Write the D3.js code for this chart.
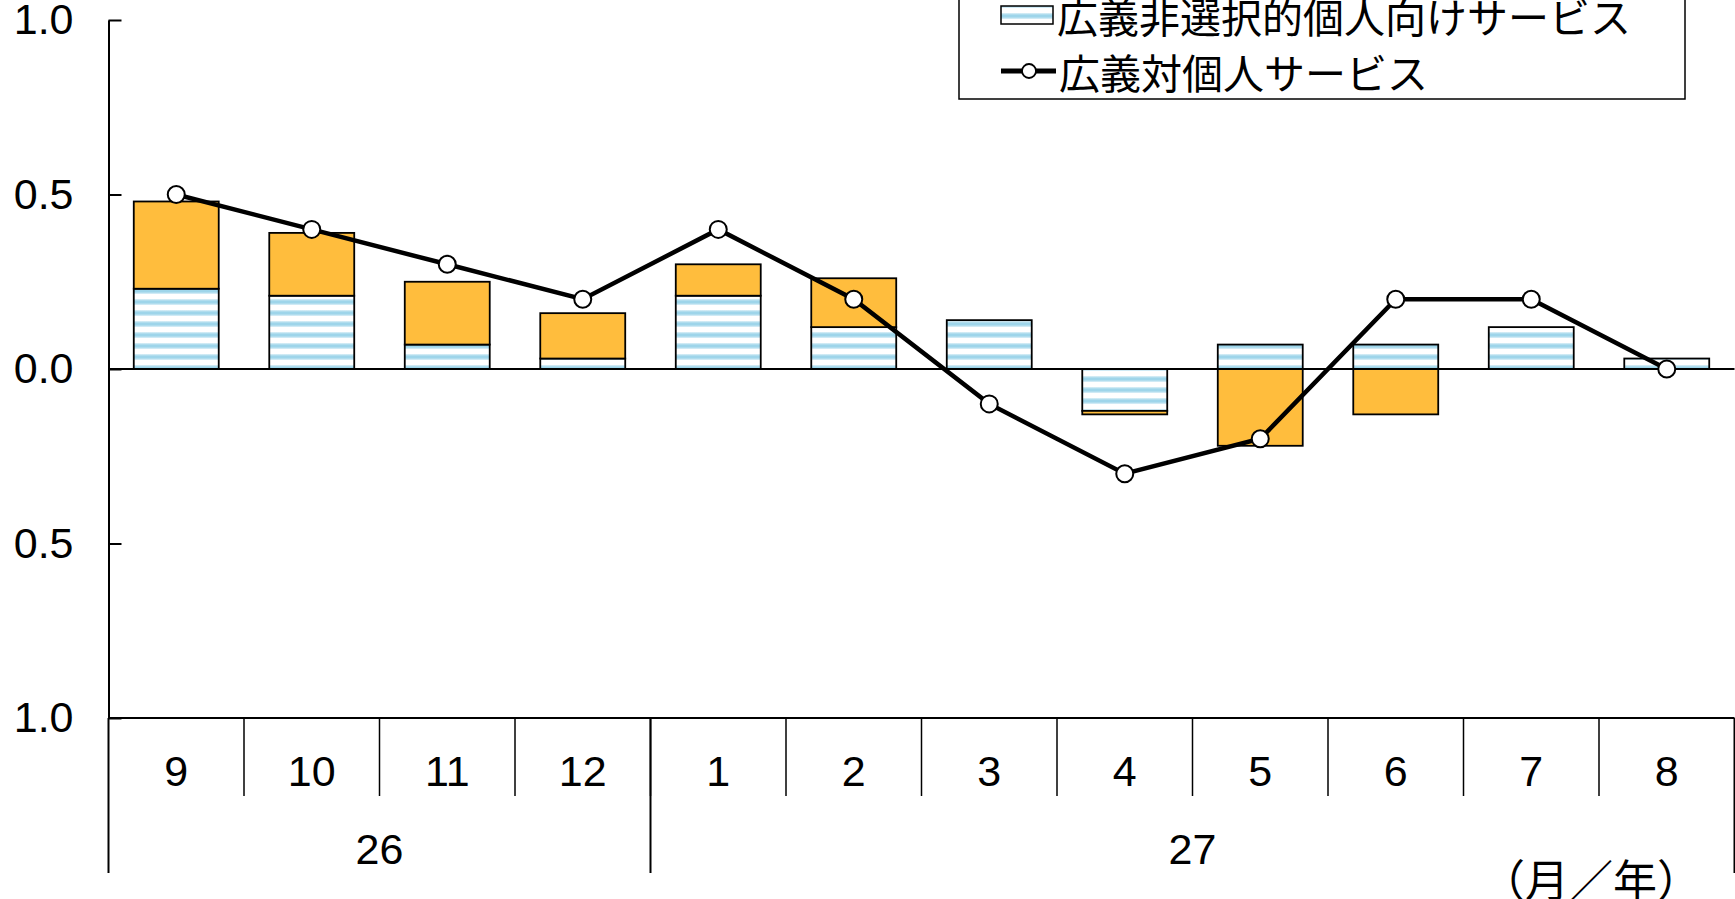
<!DOCTYPE html>
<html lang="ja">

<head>
    <meta charset="UTF-8">
    <title>広義対個人サービス</title>
    <script src="https://d3js.org/d3.v7.min.js"></script>
    <style>
        body {
            margin: 0;
            background-color: white;
        }

        .num {
            font-family: "Liberation Sans", Arial, sans-serif;
        }

        .jp {
            font-family: "Noto Sans CJK JP", sans-serif;
        }
    </style>
</head>

<body>
    <script>
        // data
        var months = ["9", "10", "11", "12", "1", "2", "3", "4", "5", "6", "7", "8"]
        var yearLabels = ["26", "27"]
        var yearSpans = [4, 8]
        var nonSelective = [0.23, 0.21, 0.07, 0.03, 0.21, 0.12, 0.14, -0.12, 0.07, 0.07, 0.12, 0.03]
        var selective = [0.25, 0.18, 0.18, 0.13, 0.09, 0.14, 0, -0.01, -0.22, -0.13, 0, 0]
        var total = [0.5, 0.4, 0.3, 0.2, 0.4, 0.2, -0.1, -0.3, -0.2, 0.2, 0.2, 0.0]
        var yTicks = [-1, -0.5, 0, 0.5, 1]
        var seriesNames = ["広義非選択的個人向けサービス", "広義対個人サービス"]

        var width = 1735
        var height = 899
        var plotLeft = 108.5
        var plotRight = 1734.5
        var plotTop = 20
        var plotBottom = 718
        var monthRow = 796
        var yearRow = 873
        var orange = "#FFBD3D"
        var stripeBlue = "#9ED5EA"

        const svg = d3.select("body")
            .append("svg")
            .attr("width", width)
            .attr("height", height)

        var defs = svg.append("defs")
        var grad = defs.append("linearGradient")
            .attr("id", "stripeGrad")
            .attr("x1", 0).attr("x2", 0).attr("y1", 0).attr("y2", 1)
        grad.append("stop").attr("offset", "0%").attr("stop-color", "#dff1f8")
        grad.append("stop").attr("offset", "35%").attr("stop-color", stripeBlue)
        grad.append("stop").attr("offset", "65%").attr("stop-color", stripeBlue)
        grad.append("stop").attr("offset", "100%").attr("stop-color", "#dff1f8")
        var pat = defs.append("pattern")
            .attr("id", "stripes")
            .attr("patternUnits", "userSpaceOnUse")
            .attr("width", 20)
            .attr("height", 11)
        pat.append("rect").attr("width", 20).attr("height", 11).attr("fill", "white")
        pat.append("rect").attr("y", 2).attr("width", 20).attr("height", 6).attr("fill", "url(#stripeGrad)")

        var x = d3.scaleBand()
            .domain(d3.range(months.length))
            .range([plotLeft, plotRight])
            .paddingInner(0.373)
            .paddingOuter(0.1865)
        var step = x.step()
        var y = d3.scaleLinear().domain([-1, 1]).range([plotBottom, plotTop])

        // stacked bars, positive and negative parts stack separately
        var rows = months.map(function (m, i) {
            return { i: i, blue: nonSelective[i], orange: selective[i] }
        })
        var stack = d3.stack().keys(["blue", "orange"]).offset(d3.stackOffsetDiverging)
        var layers = stack(rows)
        var fills = { blue: "url(#stripes)", orange: orange }

        svg.selectAll(".layer")
            .data(layers)
            .enter().append("g")
            .attr("class", "layer")
            .attr("fill", function (d) { return fills[d.key] })
            .selectAll("rect")
            .data(function (d) { return d.filter(function (s) { return s[1] - s[0] != 0 }) })
            .enter().append("rect")
            .attr("x", function (d) { return x(d.data.i) })
            .attr("width", x.bandwidth())
            .attr("y", function (d) { return y(d[1]) })
            .attr("height", function (d) { return y(d[0]) - y(d[1]) })
            .attr("stroke", "black")
            .attr("stroke-width", 1.8)

        // zero line and category axis line
        svg.append("line")
            .attr("x1", plotLeft).attr("x2", plotRight)
            .attr("y1", y(0)).attr("y2", y(0))
            .attr("stroke", "black").attr("stroke-width", 2)
        svg.append("line")
            .attr("x1", plotLeft).attr("x2", plotRight)
            .attr("y1", plotBottom).attr("y2", plotBottom)
            .attr("stroke", "black").attr("stroke-width", 2)

        // value axis
        var yAxis = d3.axisLeft(y)
            .tickValues(yTicks)
            .tickSizeInner(-13)
            .tickSizeOuter(0)
            .tickPadding(35)
            .tickFormat(function (d) { return d3.format(".1f")(Math.abs(d)) })
        var ya = svg.append("g")
            .attr("transform", "translate(" + plotLeft + ",0)")
            .call(yAxis)
        ya.select(".domain").attr("stroke-width", 2)
        ya.selectAll(".tick line").attr("stroke-width", 2)
        ya.selectAll("text")
            .attr("class", "num")
            .attr("font-size", 43)
            .attr("fill", "black")
        svg.append("line")
            .attr("x1", plotLeft).attr("x2", plotLeft)
            .attr("y1", plotBottom).attr("y2", yearRow)
            .attr("stroke", "black").attr("stroke-width", 2)

        // month dividers and labels
        for (var i = 1; i < months.length; i++) {
            svg.append("line")
                .attr("x1", x(i) - x.paddingInner() * step / 2)
                .attr("x2", x(i) - x.paddingInner() * step / 2)
                .attr("y1", plotBottom).attr("y2", monthRow)
                .attr("stroke", "black").attr("stroke-width", 1.5)
        }
        svg.selectAll(".month")
            .data(months)
            .enter().append("text")
            .attr("class", "num month")
            .attr("x", function (d, i) { return x(i) + x.bandwidth() / 2 })
            .attr("y", 771)
            .attr("dy", "0.36em")
            .attr("text-anchor", "middle")
            .attr("font-size", 43)
            .text(function (d) { return d })

        // year groups
        var start = 0
        yearLabels.forEach(function (label, k) {
            var x0 = plotLeft + start * step
            var x1 = plotLeft + (start + yearSpans[k]) * step
            svg.append("line")
                .attr("x1", x1).attr("x2", x1)
                .attr("y1", plotBottom).attr("y2", yearRow)
                .attr("stroke", "black").attr("stroke-width", 2)
            svg.append("text")
                .attr("class", "num")
                .attr("x", (x0 + x1) / 2)
                .attr("y", 849)
                .attr("dy", "0.36em")
                .attr("text-anchor", "middle")
                .attr("font-size", 43)
                .text(label)
            start += yearSpans[k]
        })

        svg.append("text")
            .attr("class", "jp")
            .attr("x", 1591)
            .attr("y", 878)
            .attr("dominant-baseline", "central")
            .attr("text-anchor", "middle")
            .attr("font-size", 44)
            .text("（月／年）")

        // total line
        var line = d3.line()
            .x(function (d, i) { return x(i) + x.bandwidth() / 2 })
            .y(function (d) { return y(d) })
        svg.append("path")
            .datum(total)
            .attr("d", line)
            .attr("fill", "none")
            .attr("stroke", "black")
            .attr("stroke-width", 4.5)
        svg.selectAll(".dot")
            .data(total)
            .enter().append("circle")
            .attr("class", "dot")
            .attr("cx", function (d, i) { return x(i) + x.bandwidth() / 2 })
            .attr("cy", function (d) { return y(d) })
            .attr("r", 8.5)
            .attr("fill", "white")
            .attr("stroke", "black")
            .attr("stroke-width", 2)

        // legend
        var lg = svg.append("g")
        lg.append("rect")
            .attr("x", 959).attr("y", -30)
            .attr("width", 726).attr("height", 129)
            .attr("fill", "white")
            .attr("stroke", "black").attr("stroke-width", 1.5)
        lg.append("rect")
            .attr("x", 1001).attr("y", 6)
            .attr("width", 52).attr("height", 18)
            .attr("fill", "url(#stripes)")
            .attr("stroke", "black").attr("stroke-width", 1.5)
        lg.append("text")
            .attr("class", "jp")
            .attr("x", 1057).attr("y", 15)
            .attr("dominant-baseline", "central")
            .attr("font-size", 41)
            .text(seriesNames[0])
        lg.append("line")
            .attr("x1", 1001).attr("x2", 1056)
            .attr("y1", 71).attr("y2", 71)
            .attr("stroke", "black").attr("stroke-width", 5)
        lg.append("circle")
            .attr("cx", 1029).attr("cy", 71).attr("r", 7)
            .attr("fill", "white")
            .attr("stroke", "black").attr("stroke-width", 1.8)
        lg.append("text")
            .attr("class", "jp")
            .attr("x", 1059).attr("y", 71)
            .attr("dominant-baseline", "central")
            .attr("font-size", 41)
            .text(seriesNames[1])
    </script>
</body>

</html>
